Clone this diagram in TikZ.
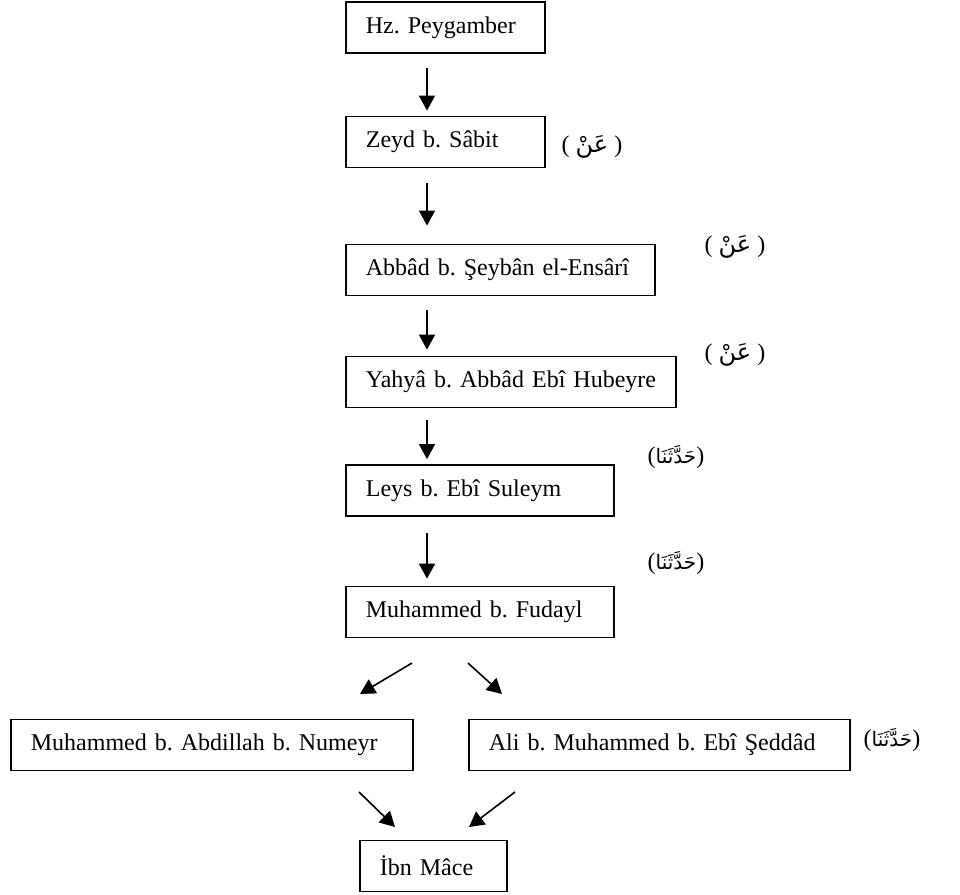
\documentclass[tikz,border=0pt]{standalone}
\usepackage{fontspec}
\setmainfont{Liberation Serif}
\newfontfamily\arabicfont[Script=Arabic]{DejaVu Sans}
\TeXXeTstate=1
\usetikzlibrary{arrows.meta}
\frenchspacing

\begin{document}
\begin{tikzpicture}[x=0.5pt,y=-0.5pt,
 >={Triangle[width=8pt,length=7.5pt]},
 every node/.style={font=\fontsize{12pt}{14pt}\selectfont},
 rawi/.style={draw,line width=0.9pt,anchor=west,align=left,
   inner xsep=10pt,inner ysep=0pt,minimum height=25.5pt},
 sigha/.style={inner sep=0pt},
 isnad/.style={->,line width=0.8pt}]
 \useasboundingbox (0,0) rectangle (960,895);
 % ravi zinciri
 \node[rawi,text width=79.5pt] (hz) at (345,27.5) {Hz. Peygamber};
 \node[rawi,text width=79.5pt] (zeyd) at (345,142) {Zeyd b. Sâbit};
 \node[rawi,text width=134.5pt] (abbad) at (345,270) {Abbâd b. Şeybân el-Ensârî};
 \node[rawi,text width=145pt] (yahya) at (345,382) {\mbox{Yahyâ b. Abbâd Ebî Hubeyre}};
 \node[rawi,text width=114pt] (leys) at (345,490.5) {Leys b. Ebî Suleym};
 \node[rawi,text width=114pt] (fudayl) at (345,612) {Muhammed b. Fudayl};
 \node[rawi,text width=181pt] (numeyr) at (10,745) {Muhammed b. Abdillah b. Numeyr};
 \node[rawi,text width=170.5pt] (ali) at (468,745) {Ali b. Muhammed b. Ebî Şeddâd};
 \node[rawi,text width=53.5pt] (ibnmace) at (359,866) {İbn Mâce};
 % rivayet sigalari
 \node[sigha] (an1) at (592,147) {( {\arabicfont\beginR عَنْ\endR} )};
 \node[sigha] (an2) at (735,247) {( {\arabicfont\beginR عَنْ\endR} )};
 \node[sigha] (an3) at (735,355) {( {\arabicfont\beginR عَنْ\endR} )};
 \node[sigha] (hd1) at (676,457) {({\arabicfont\fontsize{10pt}{12pt}\selectfont\beginR حَدَّثَنَا\endR})};
 \node[sigha] (hd2) at (676,563) {({\arabicfont\fontsize{10pt}{12pt}\selectfont\beginR حَدَّثَنَا\endR})};
 \node[sigha] (hd3) at (892,740) {({\arabicfont\fontsize{10pt}{12pt}\selectfont\beginR حَدَّثَنَا\endR})};
 % oklar
 \draw[isnad,shorten <=7pt,shorten >=2.5pt] ([xshift=41pt]hz.south west) -- ([xshift=41pt]zeyd.north west);
 \draw[isnad,shorten <=7.5pt,shorten >=9pt] ([xshift=41pt]zeyd.south west) -- ([xshift=41pt]abbad.north west);
 \draw[isnad,shorten <=7pt,shorten >=3pt] ([xshift=41pt]abbad.south west) -- ([xshift=41pt]yahya.north west);
 \draw[isnad,shorten <=6pt,shorten >=2.5pt] ([xshift=41pt]yahya.south west) -- ([xshift=41pt]leys.north west);
 \draw[isnad,shorten <=8pt,shorten >=3.5pt] ([xshift=41pt]leys.south west) -- ([xshift=41pt]fudayl.north west);
 \coordinate (d1s) at (412,663); \coordinate (d1e) at (360,694);
 \coordinate (d2s) at (468,663); \coordinate (d2e) at (502,694);
 \coordinate (d3s) at (359,792); \coordinate (d3e) at (395,827);
 \coordinate (d4s) at (515,792); \coordinate (d4e) at (469,827);
 \draw[isnad] (d1s) -- (d1e);
 \draw[isnad] (d2s) -- (d2e);
 \draw[isnad] (d3s) -- (d3e);
 \draw[isnad] (d4s) -- (d4e);
\end{tikzpicture}
\end{document}
